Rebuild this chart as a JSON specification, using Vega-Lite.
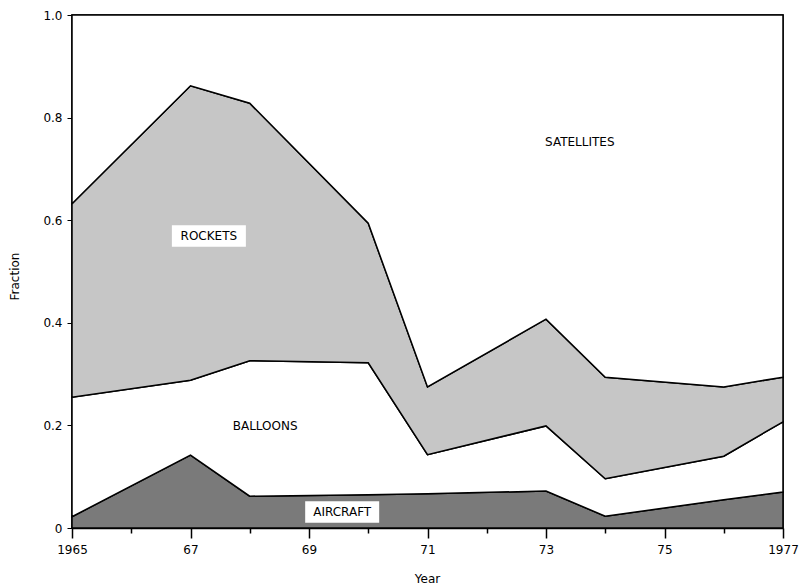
{
  "$schema": "https://vega.github.io/schema/vega-lite/v6.json",
  "width": 711,
  "height": 513,
  "autosize": {"type": "none"},
  "padding": {"left": 72, "top": 15, "right": 19, "bottom": 58},
  "background": "white",
  "config": {
    "view": {"stroke": "black", "strokeWidth": 1.5},
    "font": "DejaVu Sans"
  },
  "datasets": {
    "shares": [
      {"year": 1965, "category": "Aircraft", "share": 0.022},
      {"year": 1965, "category": "Balloons", "share": 0.233},
      {"year": 1965, "category": "Rockets", "share": 0.377},
      {"year": 1965, "category": "Satellites", "share": 0.368},
      {"year": 1967, "category": "Aircraft", "share": 0.142},
      {"year": 1967, "category": "Balloons", "share": 0.146},
      {"year": 1967, "category": "Rockets", "share": 0.574},
      {"year": 1967, "category": "Satellites", "share": 0.138},
      {"year": 1968, "category": "Aircraft", "share": 0.062},
      {"year": 1968, "category": "Balloons", "share": 0.264},
      {"year": 1968, "category": "Rockets", "share": 0.502},
      {"year": 1968, "category": "Satellites", "share": 0.172},
      {"year": 1970, "category": "Aircraft", "share": 0.065},
      {"year": 1970, "category": "Balloons", "share": 0.257},
      {"year": 1970, "category": "Rockets", "share": 0.272},
      {"year": 1970, "category": "Satellites", "share": 0.406},
      {"year": 1971, "category": "Aircraft", "share": 0.067},
      {"year": 1971, "category": "Balloons", "share": 0.076},
      {"year": 1971, "category": "Rockets", "share": 0.132},
      {"year": 1971, "category": "Satellites", "share": 0.725},
      {"year": 1973, "category": "Aircraft", "share": 0.072},
      {"year": 1973, "category": "Balloons", "share": 0.127},
      {"year": 1973, "category": "Rockets", "share": 0.208},
      {"year": 1973, "category": "Satellites", "share": 0.593},
      {"year": 1974, "category": "Aircraft", "share": 0.023},
      {"year": 1974, "category": "Balloons", "share": 0.073},
      {"year": 1974, "category": "Rockets", "share": 0.198},
      {"year": 1974, "category": "Satellites", "share": 0.706},
      {"year": 1976, "category": "Aircraft", "share": 0.055},
      {"year": 1976, "category": "Balloons", "share": 0.085},
      {"year": 1976, "category": "Rockets", "share": 0.135},
      {"year": 1976, "category": "Satellites", "share": 0.725},
      {"year": 1977, "category": "Aircraft", "share": 0.070},
      {"year": 1977, "category": "Balloons", "share": 0.137},
      {"year": 1977, "category": "Rockets", "share": 0.087},
      {"year": 1977, "category": "Satellites", "share": 0.706}
    ],
    "labels": [
      {"label": "ROCKETS", "year": 1967.31, "fraction": 0.569, "boxed": true},
      {"label": "SATELLITES", "year": 1973.57, "fraction": 0.752, "boxed": false},
      {"label": "BALLOONS", "year": 1968.26, "fraction": 0.199, "boxed": false},
      {"label": "AIRCRAFT", "year": 1969.56, "fraction": 0.031, "boxed": true}
    ]
  },
  "layer": [
    {
      "data": {"name": "shares"},
      "mark": {"type": "area", "stroke": "black", "strokeWidth": 1.5, "interpolate": "linear", "opacity": 1},
      "encoding": {
        "x": {
          "field": "year",
          "type": "quantitative",
          "scale": {"domain": [1965, 1977], "nice": false, "zero": false},
          "axis": {
            "title": "Year",
            "values": [1965, 1966, 1967, 1968, 1969, 1970, 1971, 1972, 1973, 1974, 1975, 1976, 1977],
            "labelExpr": "datum.value % 2 == 0 ? '' : ((datum.value == 1965 || datum.value == 1977) ? format(datum.value, 'd') : format(datum.value % 100, '02d'))",
            "tickSize": {"expr": "datum.value % 2 == 1 ? 10 : 5"},
            "labelPadding": 6,
            "grid": false,
            "domainColor": "black",
            "domainWidth": 1.5,
            "tickColor": "black",
            "tickWidth": 1.5,
            "labelColor": "black",
            "labelFontSize": 12,
            "labelFlush": false,
            "titleColor": "black",
            "titleFontSize": 12,
            "titleFontWeight": "normal",
            "titleX": 355,
            "titleY": 50,
            "titleBaseline": "middle"
          }
        },
        "y": {
          "field": "share",
          "type": "quantitative",
          "stack": "zero",
          "scale": {"domain": [0, 1], "nice": false},
          "axis": {
            "title": "Fraction",
            "values": [0, 0.2, 0.4, 0.6, 0.8, 1.0],
            "labelExpr": "datum.value == 0 ? '0' : format(datum.value, '.1f')",
            "tickSize": 5,
            "labelPadding": 5,
            "grid": false,
            "domainColor": "black",
            "domainWidth": 1.5,
            "tickColor": "black",
            "labelColor": "black",
            "labelFontSize": 12,
            "labelFlush": false,
            "titleColor": "black",
            "titleFontSize": 12,
            "titleFontWeight": "normal",
            "titleAngle": -90,
            "titleX": -58,
            "titleY": 261,
            "titleAlign": "center",
            "titleBaseline": "middle"
          }
        },
        "color": {
          "field": "category",
          "type": "nominal",
          "scale": {
            "domain": ["Aircraft", "Balloons", "Rockets", "Satellites"],
            "range": ["#7a7a7a", "#ffffff", "#c6c6c6", "#ffffff"]
          },
          "legend": null
        },
        "order": {"field": "category", "sort": "ascending"}
      }
    },
    {
      "data": {"name": "labels"},
      "transform": [{"filter": "datum.boxed"}],
      "mark": {
        "type": "point",
        "shape": "M-1,-0.29H1V0.29H-1Z",
        "size": 5476,
        "filled": true,
        "fill": "white",
        "opacity": 1,
        "strokeWidth": 0
      },
      "encoding": {
        "x": {"field": "year", "type": "quantitative"},
        "y": {"field": "fraction", "type": "quantitative"}
      }
    },
    {
      "data": {"name": "labels"},
      "mark": {"type": "text", "fontSize": 12, "color": "black", "align": "center", "baseline": "middle"},
      "encoding": {
        "x": {"field": "year", "type": "quantitative"},
        "y": {"field": "fraction", "type": "quantitative"},
        "text": {"field": "label"}
      }
    }
  ]
}
